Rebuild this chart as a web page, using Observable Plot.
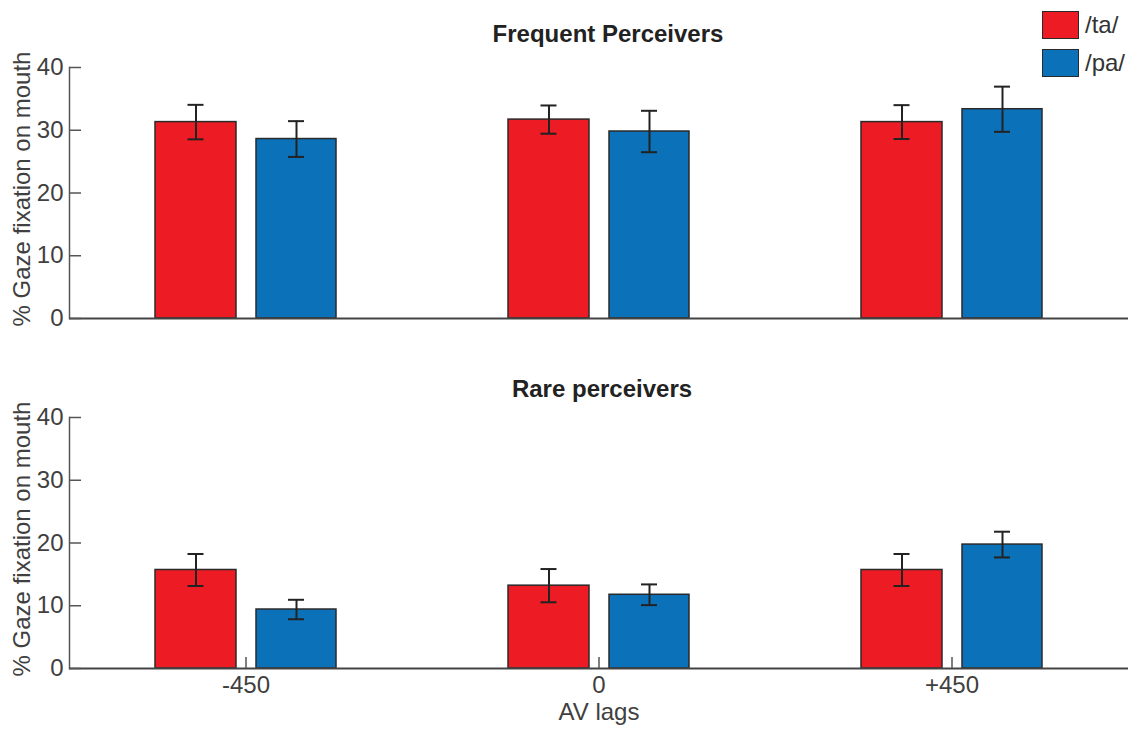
<!DOCTYPE html>
<html>
<head>
<meta charset="utf-8">
<script src="https://cdn.jsdelivr.net/npm/d3@7"></script>
<script src="https://cdn.jsdelivr.net/npm/@observablehq/plot@0.6"></script>
<style>
  html, body { margin: 0; padding: 0; background: #fff; }
  #wrap { position: relative; width: 1132px; height: 729px; font-family: "Liberation Sans", Arial, sans-serif; }
  #top, #bottom { position: absolute; left: 0; }
  #top { top: 0; }
  #bottom { top: 365px; }
  #legend { position: absolute; left: 1042px; top: 11px; }
  .li { display: flex; align-items: center; height: 28px; margin-bottom: 10px; }
  .sw { width: 35px; height: 26px; border: 1.5px solid #2a2a2a; }
  .lt { margin-left: 6px; font-size: 24px; color: #333; }
</style>
</head>
<body>
<div id="wrap">
  <div id="top"></div>
  <div id="bottom"></div>
  <div id="legend"></div>
</div>
<script>
// ---- data ----
const lags = ["-450", "0", "+450"];
const series = ["/ta/", "/pa/"];
const colors = ["#ED1C24", "#0B71B9"];
const yTicks = [0, 10, 20, 30, 40];

const freqTaMean = [31.3, 31.7, 31.3];
const freqTaErr  = [2.75, 2.25, 2.7];
const freqPaMean = [28.6, 29.8, 33.35];
const freqPaErr  = [2.85, 3.3, 3.6];

const rareTaMean = [15.7, 13.2, 15.7];
const rareTaErr  = [2.55, 2.65, 2.55];
const rarePaMean = [9.4, 11.75, 19.75];
const rarePaErr  = [1.55, 1.65, 2.05];

function rows(taM, taE, paM, paE) {
  const out = [];
  lags.forEach((lag, i) => {
    out.push({lag, series: series[0], mean: taM[i], err: taE[i]});
    out.push({lag, series: series[1], mean: paM[i], err: paE[i]});
  });
  return out;
}

const W = 1132, ML = 69, MR = 4;
const band = (W - ML - MR) / lags.length; // 353
// bar geometry within each band (px)
const taL = 86, taR = band - 167;
const paL = 187, paR = band - 267;
const taC = (taL + (band - taR)) / 2 - band / 2;
const paC = (paL + (band - paR)) / 2 - band / 2;
const cap = 8;
const textColor = "#404040";
const font = "Liberation Sans, Arial, sans-serif";

function panel({data, title, titleDx, titleDy, height, marginTop, marginBottom, showX}) {
  const ta = data.filter(d => d.series === series[0]);
  const pa = data.filter(d => d.series === series[1]);
  const marks = [
    Plot.barY(ta, {x: "lag", y: "mean", fill: colors[0], stroke: "#2a2a2a", strokeWidth: 1.5, insetLeft: taL, insetRight: taR}),
    Plot.barY(pa, {x: "lag", y: "mean", fill: colors[1], stroke: "#2a2a2a", strokeWidth: 1.5, insetLeft: paL, insetRight: paR}),
    Plot.ruleX(ta, {x: "lag", y1: d => d.mean - d.err, y2: d => d.mean + d.err, dx: taC, stroke: "#222", strokeWidth: 2}),
    Plot.ruleX(pa, {x: "lag", y1: d => d.mean - d.err, y2: d => d.mean + d.err, dx: paC, stroke: "#222", strokeWidth: 2}),
    Plot.tickY(ta, {x: "lag", y: d => d.mean - d.err, stroke: "#222", strokeWidth: 2, insetLeft: band/2 + taC - cap, insetRight: band/2 - taC - cap}),
    Plot.tickY(ta, {x: "lag", y: d => d.mean + d.err, stroke: "#222", strokeWidth: 2, insetLeft: band/2 + taC - cap, insetRight: band/2 - taC - cap}),
    Plot.tickY(pa, {x: "lag", y: d => d.mean - d.err, stroke: "#222", strokeWidth: 2, insetLeft: band/2 + paC - cap, insetRight: band/2 - paC - cap}),
    Plot.tickY(pa, {x: "lag", y: d => d.mean + d.err, stroke: "#222", strokeWidth: 2, insetLeft: band/2 + paC - cap, insetRight: band/2 - paC - cap}),
    Plot.frame({anchor: "left", stroke: "#555", strokeWidth: 1.5}),
    Plot.ruleY([0], {stroke: "#444", strokeWidth: 2}),
    Plot.axisY(yTicks, {tickSize: -12, tickPadding: 18, fontSize: 24, label: null, stroke: "#555", strokeWidth: 1.5}),
    Plot.text(["% Gaze fixation on mouth"], {frameAnchor: "left", textAnchor: "middle", lineAnchor: "middle", dx: -47, dy: -4, rotate: -90, fontSize: 24, fill: textColor}),
    Plot.text([title], {frameAnchor: "top", lineAnchor: "middle", dy: titleDy, dx: titleDx, fontSize: 24, fontWeight: "bold", fill: "#222"})
  ];
  if (showX) {
    marks.push(Plot.axisX({tickSize: -11, tickPadding: 18, fontSize: 24, label: null, stroke: "#555", strokeWidth: 1.5}));
    marks.push(Plot.text(["AV lags"], {frameAnchor: "bottom", lineAnchor: "middle", dy: 44, fontSize: 24, fill: textColor}));
  }
  return Plot.plot({
    width: W, height,
    marginLeft: ML, marginRight: MR, marginTop, marginBottom,
    style: {fontFamily: font, color: textColor, background: "transparent", overflow: "visible"},
    x: {domain: lags, padding: 0, axis: null},
    y: {domain: [0, 40], axis: null},
    marks
  });
}

document.getElementById("top").appendChild(panel({
  data: rows(freqTaMean, freqTaErr, freqPaMean, freqPaErr),
  title: "Frequent Perceivers", titleDx: 9, titleDy: -33,
  height: 365, marginTop: 67, marginBottom: 47, showX: false
}));
document.getElementById("bottom").appendChild(panel({
  data: rows(rareTaMean, rareTaErr, rarePaMean, rarePaErr),
  title: "Rare perceivers", titleDx: 3, titleDy: -28,
  height: 364, marginTop: 52, marginBottom: 61, showX: true
}));

const legend = document.getElementById("legend");
series.forEach((s, i) => {
  const row = document.createElement("div");
  row.className = "li";
  const sw = document.createElement("div");
  sw.className = "sw";
  sw.style.background = colors[i];
  const lt = document.createElement("span");
  lt.className = "lt";
  lt.textContent = s;
  row.appendChild(sw); row.appendChild(lt);
  legend.appendChild(row);
});
</script>
</body>
</html>
